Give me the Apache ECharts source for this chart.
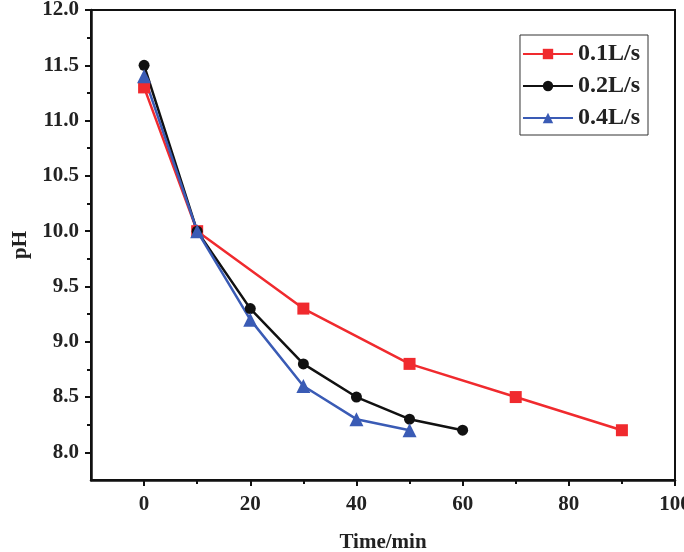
<!DOCTYPE html>
<html>
<head>
<meta charset="utf-8">
<script src="https://cdn.jsdelivr.net/npm/echarts@6/dist/echarts.min.js"></script>
<style>
  html, body { margin: 0; padding: 0; background: #fff; }
  #chart { width: 684px; height: 552px; }
</style>
</head>
<body>
<div id="chart"></div>
<script type="text/javascript">
  // data
  var seriesNames = ['0.1L/s', '0.2L/s', '0.4L/s'];
  var timeA = [0, 10, 30, 50, 70, 90];
  var phA = [11.3, 10.0, 9.3, 8.8, 8.5, 8.2];
  var timeB = [0, 10, 20, 30, 40, 50, 60];
  var phB = [11.5, 10.0, 9.3, 8.8, 8.5, 8.3, 8.2];
  var timeC = [0, 10, 20, 30, 40, 50];
  var phC = [11.4, 10.0, 9.2, 8.6, 8.3, 8.2];
  var xTicks = [0, 20, 40, 60, 80, 100];
  var xMinor = [10, 30, 50, 70, 90];
  var yTicks = [8.0, 8.5, 9.0, 9.5, 10.0, 10.5, 11.0, 11.5, 12.0];
  var yMinor = [8.25, 8.75, 9.25, 9.75, 10.25, 10.75, 11.25, 11.75];

  function pairs(xs, ys) {
    return xs.map(function (x, i) { return [x, ys[i]]; });
  }

  var chart = echarts.init(document.getElementById('chart'));
  var font = '"Liberation Serif", "Times New Roman", serif';
  var colors = ['#f02a2e', '#111111', '#3a5bb5'];

  var option = {
    animation: false,
    backgroundColor: '#fff',
    grid: {
      left: 91, right: 9, top: 10, bottom: 72,
      outerBoundsMode: 'none', containLabel: false,
      show: true, borderColor: '#111', borderWidth: 2
    },
    legend: {
      right: 36, top: 35,
      orient: 'vertical',
      data: seriesNames,
      itemWidth: 50, itemHeight: 13, itemGap: 8,
      padding: [7, 8, 5, 2],
      borderColor: '#333', borderWidth: 1,
      textStyle: { fontFamily: font, fontWeight: 'bold', fontSize: 24, color: '#222' }
    },
    xAxis: [{
      type: 'value', min: -10, max: 100,
      name: 'Time/min', nameLocation: 'middle', nameGap: 52,
      nameTextStyle: { fontFamily: font, fontWeight: 'bold', fontSize: 21, color: '#222' },
      axisLine: { onZero: false, lineStyle: { color: '#111', width: 2.5 } },
      axisTick: { show: true, customValues: xTicks, length: 6, inside: false, lineStyle: { width: 2, color: '#111' } },
      axisLabel: { customValues: xTicks, margin: 14, fontFamily: font, fontWeight: 'bold', fontSize: 21, color: '#222' },
      splitLine: { show: false }
    }, {
      type: 'value', min: -10, max: 100, position: 'bottom',
      axisLine: { show: false, onZero: false },
      axisTick: { show: true, customValues: xMinor, length: 4, lineStyle: { width: 2, color: '#111' } },
      axisLabel: { show: false },
      splitLine: { show: false }
    }],
    yAxis: [{
      type: 'value', min: 7.75, max: 12,
      name: 'pH', nameLocation: 'middle', nameGap: 60,
      nameTextStyle: { fontFamily: font, fontWeight: 'bold', fontSize: 21, color: '#222' },
      axisLine: { show: true, onZero: false, lineStyle: { color: '#111', width: 2.5 } },
      axisTick: { show: true, customValues: yTicks, length: 6, lineStyle: { width: 2, color: '#111' } },
      axisLabel: {
        customValues: yTicks, margin: 12, fontFamily: font, fontWeight: 'bold', fontSize: 21, color: '#222',
        formatter: function (v) { return v.toFixed(1); }
      },
      splitLine: { show: false }
    }, {
      type: 'value', min: 7.75, max: 12, position: 'left',
      axisLine: { show: false, onZero: false },
      axisTick: { show: true, customValues: yMinor, length: 4, lineStyle: { width: 2, color: '#111' } },
      axisLabel: { show: false },
      splitLine: { show: false }
    }],
    series: [{
      name: seriesNames[0], type: 'line', symbol: 'rect', symbolSize: 12,
      color: colors[0], lineStyle: { width: 2.5 },
      data: pairs(timeA, phA)
    }, {
      name: seriesNames[1], type: 'line', symbol: 'circle', symbolSize: 11,
      color: colors[1], lineStyle: { width: 2.5 },
      data: pairs(timeB, phB)
    }, {
      name: seriesNames[2], type: 'line', symbol: 'triangle', symbolSize: 14,
      color: colors[2], lineStyle: { width: 2.5 },
      data: pairs(timeC, phC)
    }]
  };
  chart.setOption(option);
</script>
</body>
</html>
